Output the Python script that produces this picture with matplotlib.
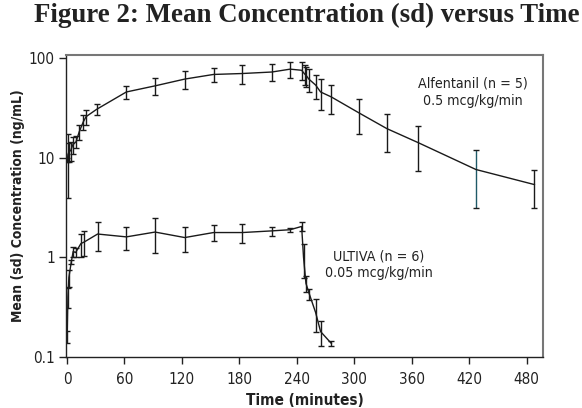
import numpy as np
import matplotlib
matplotlib.use('Agg')
from matplotlib import pyplot as plt

# Alfentanil 0.5 mcg/kg/min (n = 5): time (min), mean (ng/mL), sd
alfTime = [0.5, 1, 2, 4, 6, 9.4, 12.8, 17, 20, 31, 62, 92, 123, 153, 183, 214, 233,
           245, 248, 250, 252.5, 259.6, 264.8, 276, 305, 334, 367, 427, 488]
alfMean = [9.5, 10.8, 11.5, 11.9, 13.5, 14.5, 18.3, 23, 26, 30.8, 46, 53, 62, 69, 70.5, 73, 78,
           76, 70, 67, 62, 54, 46, 41, 28.3, 19.7, 14.2, 7.65, 5.4]
alfSd = [0.45, 6.8, 2.5, 2.5, 2.6, 2.0, 3.0, 4.0, 4.5, 4.0, 7.0, 10, 12.5, 11, 15, 14, 15,
         16, 16, 15, 16, 14.5, 15.5, 13.5, 10.8, 8.2, 6.8, 4.5, 2.25]

# ULTIVA 0.05 mcg/kg/min (n = 6)
ultTime = [0.3, 1, 2, 4.5, 6.5, 9, 14.6, 18, 32, 62, 92, 123, 153, 183, 214, 233,
           245, 247, 249.5, 253, 259.6, 264.8, 276]
ultMean = [0.16, 0.40, 0.63, 0.9, 1.15, 1.12, 1.38, 1.43, 1.72, 1.61, 1.80, 1.585, 1.78, 1.78, 1.85, 1.9,
           2.05, 1.0, 0.55, 0.43, 0.28, 0.18, 0.137]
ultSd = [0.023, 0.09, 0.12, 0.05, 0.13, 0.12, 0.36, 0.4, 0.56, 0.43, 0.70, 0.45, 0.33, 0.38, 0.19, 0.10,
         0.22, 0.38, 0.1, 0.055, 0.1, 0.05, 0.008]

xTicks = [0, 60, 120, 180, 240, 300, 360, 420, 480]
yTicks = [0.1, 1, 10, 100]
yTickLabels = ['0.1', '1', '10', '100']

fontKw = dict(family='DejaVu Sans', stretch='condensed')
textCol = '#222222'

fig = plt.figure(figsize=(5.82, 4.08), dpi=100)
ax = fig.add_axes([0.1134, 0.125, 0.8196, 0.740])

lineCol = '#1a1a1a'
alfBars = ax.errorbar(alfTime, alfMean, yerr=alfSd, color=lineCol, lw=1.0, elinewidth=1.0,
                      capsize=2.5, capthick=1.0)
ax.errorbar(ultTime, ultMean, yerr=ultSd, color=lineCol, lw=1.0, elinewidth=1.0,
            capsize=2.5, capthick=1.0)
# the scan shows the 420 min bar slightly teal
barCols = [lineCol] * len(alfTime)
barCols[-2] = '#1f5a68'
alfBars[2][0].set_colors(barCols)

ax.set_yscale('log')
ax.set_xlim(-1, 497)
ax.set_ylim(0.1, 108)
ax.set_xticks(xTicks)
ax.set_xticklabels([str(t) for t in xTicks], fontsize=11, **fontKw)
ax.set_yticks(yTicks)
ax.set_yticklabels(yTickLabels, fontsize=11, **fontKw)
ax.minorticks_off()
ax.tick_params(direction='out', length=5, width=1, colors=textCol, pad=3)
ax.tick_params(axis='x', pad=6)

for side in ['left', 'bottom']:
    ax.spines[side].set_color(textCol)
    ax.spines[side].set_linewidth(1.0)
for side in ['top', 'right']:
    ax.spines[side].set_color('#777777')
    ax.spines[side].set_linewidth(1.5)

ax.set_xlabel('Time (minutes)', fontweight='bold', fontsize=11, labelpad=4, color=textCol, **fontKw)
ax.set_ylabel('Mean (sd) Concentration (ng/mL)', fontweight='bold', color=textCol,
              fontsize=10, labelpad=3, **fontKw)

ax.text(0.853, 0.877, 'Alfentanil (n = 5)\n0.5 mcg/kg/min', transform=ax.transAxes,
        ha='center', va='center', fontsize=10.2, color=textCol, linespacing=1.25, **fontKw)
ax.text(0.655, 0.305, 'ULTIVA (n = 6)\n0.05 mcg/kg/min', transform=ax.transAxes,
        ha='center', va='center', fontsize=10.2, color=textCol, linespacing=1.25, **fontKw)

fig.text(0.527, 0.963, 'Figure 2: Mean Concentration (sd) versus Time', ha='center', va='center',
         family=['Liberation Serif', 'DejaVu Serif'], fontweight='bold', fontsize=19.4, color=textCol)

fig.savefig('out.png', dpi=100)
